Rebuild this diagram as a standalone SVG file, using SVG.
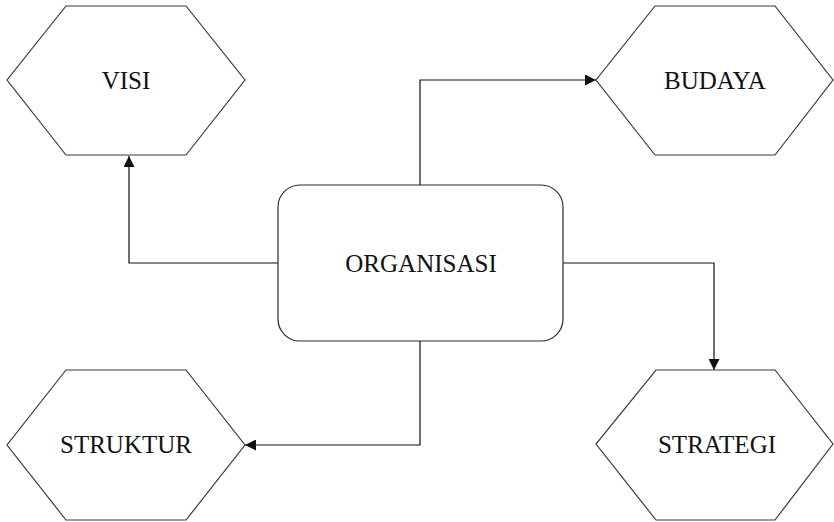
<svg xmlns="http://www.w3.org/2000/svg" width="834" height="522" viewBox="0 0 834 522">
  <style>
    .hex { fill: #ffffff; stroke: #3a3a3a; stroke-width: 1.2; }
    .box { fill: #ffffff; stroke: #2a2a2a; stroke-width: 1.2; }
    .lbl { font-family: "Liberation Serif", "Times New Roman", serif; font-size: 25px; fill: #111; text-anchor: middle; }
    .wire { fill: none; stroke: #111; stroke-width: 1.2; }
  </style>
  <defs>
    <marker id="arrow" viewBox="0 0 10 10" refX="10" refY="5" markerWidth="11" markerHeight="11" markerUnits="userSpaceOnUse" orient="auto">
      <path d="M0,0 L10,5 L0,10 Z" fill="#111"/>
    </marker>
  </defs>
  <rect width="834" height="522" fill="#ffffff"/>

  <g id="connectors">
    <path class="wire" d="M420,185 V80 H596" marker-end="url(#arrow)"/>
    <path class="wire" d="M278,263 H129 V156" marker-end="url(#arrow)"/>
    <path class="wire" d="M563,263 H714 V370" marker-end="url(#arrow)"/>
    <path class="wire" d="M420,341 V445 H245" marker-end="url(#arrow)"/>
  </g>

  <g id="organisasi">
    <rect class="box" x="278" y="185" width="285" height="156" rx="22" ry="22"/>
    <text class="lbl" x="421" y="272">ORGANISASI</text>
  </g>

  <g id="visi">
    <polygon class="hex" points="66,6 186,6 245,80 186,155 66,155 7,80"/>
    <text class="lbl" x="126" y="89">VISI</text>
  </g>

  <g id="budaya">
    <polygon class="hex" points="655,6 775,6 833,80 775,155 655,155 596,80"/>
    <text class="lbl" x="715" y="89">BUDAYA</text>
  </g>

  <g id="struktur">
    <polygon class="hex" points="66,370 186,370 245,445 186,520 66,520 7,445"/>
    <text class="lbl" x="126" y="453">STRUKTUR</text>
  </g>

  <g id="strategi">
    <polygon class="hex" points="656,370 775,370 833,444 775,520 656,520 596,444"/>
    <text class="lbl" x="717" y="453">STRATEGI</text>
  </g>
</svg>
